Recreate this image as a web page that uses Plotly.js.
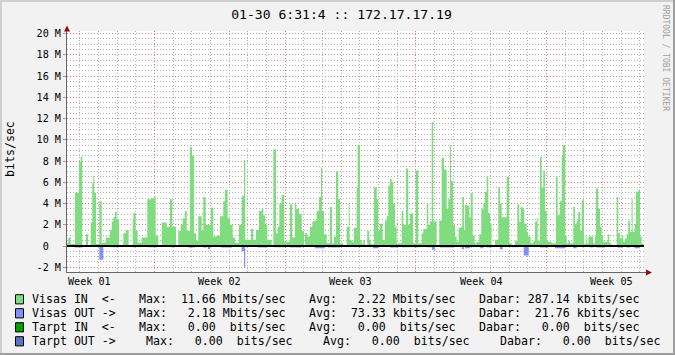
<!DOCTYPE html>
<html><head><meta charset="utf-8">
<script src="https://cdn.plot.ly/plotly-3.0.1.min.js"></script>
<style>html,body{margin:0;padding:0;background:#f2f2f2;} #chart{width:675px;height:355px;}</style>
</head><body><div id="chart"></div>
<script>
// ---------------- data ----------------
const chartTitle = "01-30 6:31:4 :: 172.17.17.19";
const yTitle = "bits/sec";
const watermark = "RRDTOOL / TOBI OETIKER";
const spanHours = 741.9;                 // graph span, hours since start
const firstMidnight = 16.7;              // first day boundary, hours
const weekBoundaryHours = [112.7, 280.7, 448.7, 616.7];
const weekLabelHours = [28.7, 196.7, 364.7, 532.7, 700.7];
const weekLabels = ["Week 01", "Week 02", "Week 03", "Week 04", "Week 05"];
const yTickVals = [-2, 0, 2, 4, 6, 8, 10, 12, 14, 16, 18, 20];
const yTickText = ["-2 M", "0\u00a0\u00a0", "2 M", "4 M", "6 M", "8 M", "10 M", "12 M", "14 M", "16 M", "18 M", "20 M"];

// Visas IN (Mbit/s), step starts in hours
const inHours = [0,1.7,4.8,10.3,15.4,17.6,19.7,24.4,27.0,30.5,
32.5,33.8,35.1,37.3,41.5,44.6,49.8,55.3,57.5,59.6,
61.7,63.9,66.9,72.4,75.9,79.3,84.5,85.5,88.3,90.9,
96.0,103.2,108.9,112.2,114.0,117.4,121.8,128.2,132.4,135.4,
140.1,143.1,146.2,148.8,151.7,153.9,158.1,160.7,163.3,165.9,
168.8,173.2,175.2,178.3,184.8,188.1,192.5,196.7,201.0,203.1,
206.6,209.6,213.0,216.0,221.1,224.6,227.6,229.2,236.6,239.5,
243.0,246.9,250.3,252.4,254.6,257.5,263.2,265.3,268.7,270.9,
273.0,276.0,279.4,286.7,289.7,293.1,294.8,298.3,301.8,304.7,
306.0,309.0,312.4,315.4,318.0,321.0,324.0,326.6,327.9,330.4,
333.9,338.1,340.7,343.3,345.9,348.8,351.0,355.2,359.6,362.2,
363.4,366.0,369.0,372.5,373.7,376.7,378.9,381.0,383.1,386.1,
388.7,390.5,394.7,398.2,400.2,402.4,405.9,408.8,411.0,413.1,
415.3,417.5,419.5,421.7,423.9,430.3,432.4,435.9,438.8,441.0,
443.2,445.2,448.3,451.7,456.0,458.1,462.5,464.5,466.7,468.9,
470.9,475.3,478.7,481.7,484.7,488.2,490.3,492.4,493.7,496.3,
498.9,501.0,503.6,506.2,508.2,510.4,511.7,513.9,517.2,519.0,
521.6,524.2,526.8,530.1,532.7,535.3,537.4,539.6,541.7,543.9,
546.0,550.3,554.5,556.7,558.9,565.3,568.3,571.7,576.0,579.0,
581.5,583.7,585.9,588.0,591.0,593.1,596.2,599.5,601.7,603.9,
605.2,608.1,610.3,612.4,614.6,616.8,618.9,623.2,628.7,630.9,
633.9,636.1,637.4,640.3,642.5,644.6,646.7,651.0,653.1,655.3,
657.4,659.6,661.8,664.7,666.9,668.2,670.3,676.7,678.9,680.2,
683.1,685.3,687.5,689.5,695.2,697.3,700.3,706.7,708.8,711.0,
713.2,715.2,717.4,719.6,721.7,723.9,726.0,727.3,730.3,731.6,
734.6,736.8,739.0];
const inMbps = [0.3,0.8,0.2,5.0,7.9,8.4,0.1,1.1,0.1,2.2,
5.9,6.6,5.0,0.2,4.2,0.3,0.8,1.5,2.3,2.7,
3.2,2.5,0.1,1.2,1.5,0.1,2.5,3.1,1.4,0.3,
0.8,4.4,4.5,4.7,1.0,0.1,2.2,1.8,4.4,1.8,
0.1,1.4,2.0,2.6,3.3,1.4,9.3,8.5,1.2,0.5,
2.8,1.4,4.6,2.0,3.6,0.9,1.0,2.8,4.2,5.3,
2.6,2.0,0.8,0.3,2.0,4.7,8.1,0.6,1.6,0.6,
1.5,3.3,3.5,2.9,2.0,0.6,0.1,9.1,1.2,1.8,
4.0,4.8,0.4,3.9,0.8,4.1,3.5,3.0,1.4,0.1,
1.2,0.9,1.8,2.3,2.4,3.3,4.6,7.4,3.3,1.1,
0.25,3.7,0.25,0.9,7.0,4.4,0.25,0.1,1.8,4.0,
0.6,0.4,1.7,5.5,9.5,0.6,0.2,0.6,0.1,1.4,
0.6,0.2,5.5,4.4,1.4,2.1,0.6,2.4,2.8,5.7,
6.3,6.0,4.0,1.8,0.25,3.3,2.0,7.3,2.0,3.0,
3.1,0.25,7.1,0.25,1.2,1.6,4.0,2.0,2.3,11.66,
2.3,0.1,2.4,8.3,7.2,3.5,4.4,9.5,6.1,2.0,
0.9,0.4,1.7,1.8,4.6,1.5,3.9,3.8,2.7,5.0,
1.0,0.25,0.4,1.1,3.5,4.0,5.1,6.6,3.1,2.1,
0.1,0.6,5.5,4.0,2.7,6.5,0.3,0.1,0.5,3.9,
2.3,3.7,3.5,2.1,1.3,0.9,0.25,0.5,2.3,2.6,
0.5,8.4,5.5,7.1,3.3,0.5,0.4,0.25,6.5,2.9,
4.2,8.5,9.5,1.0,0.25,0.5,0.25,3.7,2.1,2.4,
3.2,1.4,4.3,0.2,0.9,0.25,0.9,0.25,0.9,5.4,
3.5,1.8,1.0,0.4,1.1,0.25,0.1,4.6,1.2,0.7,
1.0,0.4,0.7,1.1,2.4,1.35,4.5,1.35,2.1,5.1,
5.3,0.9,0.2];

// Visas OUT (Mbit/s, drawn below zero)
const outHours = [0,10.3,19.7,41.5,46.7,56.0,66.9,84.5,88.7,104.0,
115.3,132.4,138.9,155.6,164.6,175.2,179.6,181.3,183.9,198.0,
212.1,224.6,227.6,229.2,245.1,256.7,264.9,280.3,286.7,302.1,
318.9,331.7,335.6,351.0,370.3,376.7,393.4,399.8,415.3,425.6,
430.7,453.9,462.5,469.3,473.1,479.6,496.7,502.7,507.5,510.4,
511.7,518.1,531.4,535.3,539.6,546.0,556.7,560.2,571.7,580.3,
587.3,593.7,608.1,618.9,627.4,640.3,651.0,655.3,672.4,676.7,
680.2,691.7,707.6,715.2,719.6,723.9,729.6,736.0];
const outMbps = [0.05,0.15,0.03,1.3,0.03,0.12,0.03,0.12,0.03,0.12,
0.03,0.12,0.03,0.15,0.03,0.15,0.03,0.3,0.03,0.15,
0.03,0.5,2.0,0.03,0.15,0.03,0.12,0.03,0.15,0.03,
0.2,0.03,0.15,0.03,0.12,0.03,0.2,0.03,0.15,0.03,
0.12,0.03,0.12,0.35,0.03,0.13,0.03,0.1,0.3,0.03,
0.2,0.03,0.2,0.03,0.15,0.03,0.3,0.03,0.12,0.03,
0.9,0.03,0.15,0.03,0.2,0.03,0.2,0.03,0.15,0.03,
0.15,0.03,0.15,0.03,0.15,0.03,0.2,0.03];

// Tarpt IN / OUT are all zero
const tarptHours = [0, 741.9];
const tarptInMbps = [0, 0];
const tarptOutMbps = [0, 0];

// legend table
const legendNames = ["Visas IN  <-", "Visas OUT ->", "Tarpt IN  <-", "Tarpt OUT ->"];
const legendColors = ["#7fdc7f", "#8090ff", "#00a000", "#5a74c4"];
const maxVals = [11.66, 2.18, 0.00, 0.00];
const maxUnits = ["M", "M", " ", " "];
const avgVals = [2.22, 73.33, 0.00, 0.00];
const avgUnits = ["M", "k", " ", " "];
const curVals = [287.14, 21.76, 0.00, 0.00];
const curUnits = ["k", "k", " ", " "];

// ---------------- layout helpers ----------------
const W = 675, H = 355, L = 67, R = 644, T = 31, B = 272;
const fx = px => (px - L) / (R - L);
const fy = py => (B - py) / (B - T);
const MONO = "DejaVu Sans Mono";
const GRID = "#b4b4b4", MGRID = "#df8080", AXIS = "#666666", ARROW = "#8b1010";
const DASH = "1px,2px";

function closeSteps(xs, ys) { return {x: xs.concat([spanHours]), y: ys.concat([ys[ys.length - 1]])}; }
const inS = closeSteps(inHours, inMbps);
const outS = closeSteps(outHours, outMbps.map(v => -v));

const traces = [
  {x: inS.x, y: inS.y, type: "scatter", mode: "lines", line: {width: 0, shape: "hv"},
   fill: "tozeroy", fillcolor: legendColors[0], hoverinfo: "skip"},
  {x: outS.x, y: outS.y, type: "scatter", mode: "lines", line: {width: 0, shape: "hv"},
   fill: "tozeroy", fillcolor: legendColors[1], hoverinfo: "skip"},
  {x: tarptHours, y: tarptInMbps, type: "scatter", mode: "lines", line: {width: 1, color: legendColors[2]}, hoverinfo: "skip"},
  {x: tarptHours, y: tarptOutMbps.map(v => -v), type: "scatter", mode: "lines", line: {width: 1, color: legendColors[3]}, hoverinfo: "skip"}
];

function esc(s) { return s.replace(/&/g, "&amp;").replace(/</g, "&lt;").replace(/>/g, "&gt;").replace(/ /g, "\u00a0"); }
function fmt(v, u) { return v.toFixed(2).padStart(6, " ") + " " + u + "bits/sec"; }

const annotations = [];
const shapes = [];

// week labels
weekLabels.forEach((t, i) => annotations.push({
  x: weekLabelHours[i], xref: "x", y: fy(281.5), yref: "paper", text: t, showarrow: false,
  xanchor: "center", yanchor: "middle", font: {family: MONO, size: 10.15, color: "#000"}
}));

// y title
annotations.push({x: fx(10), y: fy(149), xref: "paper", yref: "paper", text: yTitle, textangle: -90,
  showarrow: false, xanchor: "center", yanchor: "middle", font: {family: MONO, size: 11.6, color: "#000"}});

// watermark
annotations.push({x: fx(666), y: fy(58), xref: "paper", yref: "paper", text: esc(watermark), textangle: 90,
  showarrow: false, xanchor: "center", yanchor: "middle", font: {family: MONO, size: 8, color: "#a0a0a0"}});

// legend
const rowY = [299.3, 313.3, 327.3, 341.3];
const colX = [[31, 138, 308, 477.6], [31, 138, 308, 477.6], [31, 138, 308, 477.6], [31, 145.3, 322.4, 499]];
legendNames.forEach((name, i) => {
  const parts = [name, "Max: " + fmt(maxVals[i], maxUnits[i]), "Avg: " + fmt(avgVals[i], avgUnits[i]), "Dabar: " + fmt(curVals[i], curUnits[i])];
  parts.forEach((p, j) => annotations.push({
    x: fx(colX[i][j]), y: fy(rowY[i]), xref: "paper", yref: "paper", text: esc(p), showarrow: false,
    xanchor: "left", yanchor: "middle", borderpad: 0, font: {family: MONO, size: 11.6, color: "#000"}
  }));
  shapes.push({type: "rect", xref: "paper", yref: "paper", x0: fx(15.5), x1: fx(23.5), y0: fy(rowY[i] - 4.6), y1: fy(rowY[i] + 4.6),
    fillcolor: legendColors[i], line: {color: "#000", width: 1}});
});

// zero rule
shapes.push({type: "line", xref: "x", yref: "y", x0: 0, x1: spanHours, y0: 0, y1: 0, line: {color: "#000", width: 2}, layer: "above"});
// axis extensions and arrows
shapes.push({type: "line", xref: "paper", yref: "paper", x0: fx(644), x1: fx(647), y0: fy(272.5), y1: fy(272.5), line: {color: AXIS, width: 1}});
shapes.push({type: "path", xref: "paper", yref: "paper",
  path: `M ${fx(646)} ${fy(269.5)} L ${fx(652)} ${fy(272.5)} L ${fx(646)} ${fy(275.5)} Z`, fillcolor: ARROW, line: {width: 0}});
shapes.push({type: "path", xref: "paper", yref: "paper",
  path: `M ${fx(64)} ${fy(31.5)} L ${fx(67)} ${fy(25.5)} L ${fx(70)} ${fy(31.5)} Z`, fillcolor: ARROW, line: {width: 0}});
// 3D frame
shapes.push({type: "rect", xref: "paper", yref: "paper", x0: fx(0), x1: fx(W), y0: fy(0), y1: fy(2), fillcolor: "#cfcfcf", line: {width: 0}});
shapes.push({type: "rect", xref: "paper", yref: "paper", x0: fx(0), x1: fx(2), y0: fy(0), y1: fy(H), fillcolor: "#cfcfcf", line: {width: 0}});
shapes.push({type: "rect", xref: "paper", yref: "paper", x0: fx(0), x1: fx(W), y0: fy(H - 2), y1: fy(H), fillcolor: "#9e9e9e", line: {width: 0}});
shapes.push({type: "rect", xref: "paper", yref: "paper", x0: fx(W - 2), x1: fx(W), y0: fy(0), y1: fy(H), fillcolor: "#9e9e9e", line: {width: 0}});

const layout = {
  width: W, height: H,
  margin: {l: L, r: W - R, t: T, b: H - B, pad: 0},
  paper_bgcolor: "#f2f2f2", plot_bgcolor: "#ffffff",
  font: {family: MONO, size: 10.15, color: "#000"},
  showlegend: false,
  title: {text: chartTitle, font: {family: MONO, size: 13.1, color: "#000"},
    x: 341.5 / W, xref: "container", xanchor: "center", y: 1 - 14 / H, yref: "container", yanchor: "middle"},
  xaxis: {range: [0, spanHours], tickmode: "array", tickvals: weekBoundaryHours, showticklabels: false,
    showgrid: true, gridcolor: MGRID, griddash: DASH, gridwidth: 1, ticks: "",
    minor: {tick0: firstMidnight, dtick: 24, showgrid: true, gridcolor: GRID, griddash: DASH, gridwidth: 1},
    zeroline: false, showline: true, linecolor: AXIS, linewidth: 1, fixedrange: true},
  yaxis: {range: [-2.447, 20.235], tickmode: "array", tickvals: yTickVals, ticktext: yTickText,
    showgrid: true, gridcolor: MGRID, griddash: DASH, gridwidth: 1,
    ticks: "outside", ticklen: 3, tickcolor: MGRID, tickwidth: 1,
    minor: {tick0: 0, dtick: 0.5, showgrid: true, gridcolor: GRID, griddash: DASH, gridwidth: 1},
    tickfont: {family: MONO, size: 10.15, color: "#000"},
    zeroline: false, showline: true, linecolor: AXIS, linewidth: 1, fixedrange: true},
  annotations: annotations,
  shapes: shapes
};

Plotly.newPlot("chart", traces, layout, {staticPlot: true, displayModeBar: false});
</script></body></html>
